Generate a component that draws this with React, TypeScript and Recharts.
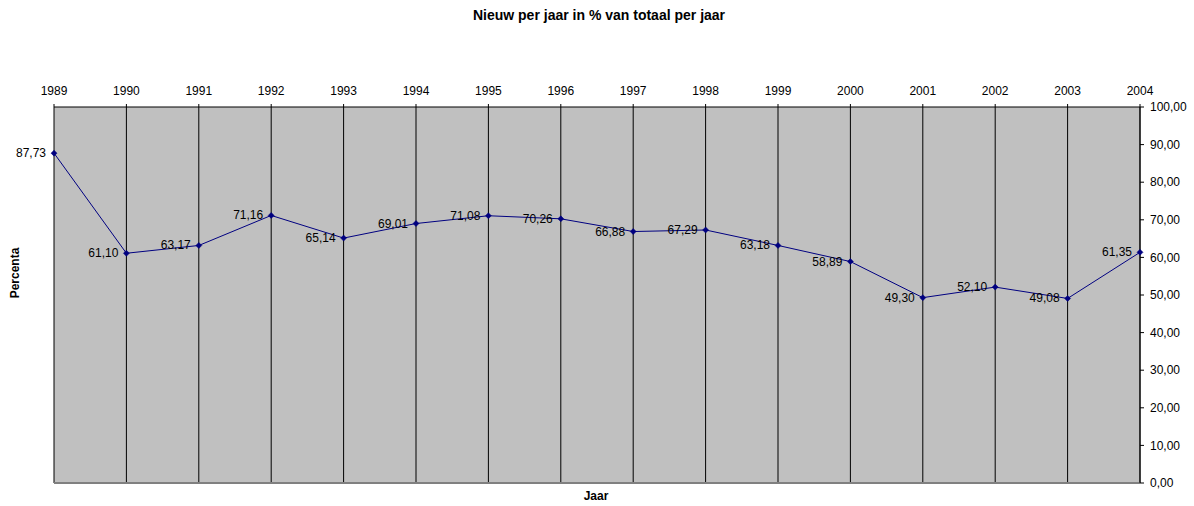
import React from "react";
import { LineChart, Line, XAxis, YAxis, CartesianGrid, LabelList, ReferenceLine } from "recharts";

const years = [1989, 1990, 1991, 1992, 1993, 1994, 1995, 1996, 1997, 1998, 1999, 2000, 2001, 2002, 2003, 2004];
const values = [87.73, 61.10, 63.17, 71.16, 65.14, 69.01, 71.08, 70.26, 66.88, 67.29, 63.18, 58.89, 49.30, 52.10, 49.08, 61.35];
const yTicks = [0, 10, 20, 30, 40, 50, 60, 70, 80, 90, 100];

const data = years.map((y, i) => ({ year: y, value: values[i] }));

const fmt = (v: number) => v.toFixed(2).replace(".", ",");
const FONT = "'Liberation Sans', Arial, sans-serif";

const Diamond = (props: any) => {
  const { cx, cy } = props;
  if (cx == null || cy == null) return null;
  const r = 3;
  return (
    <polygon
      points={`${cx},${cy - r} ${cx + r},${cy} ${cx},${cy + r} ${cx - r},${cy}`}
      fill="#000080"
      stroke="#000080"
      strokeWidth={0.5}
    />
  );
};

const ValueLabel = (props: any) => {
  const { x, y, value } = props;
  return (
    <text x={x - 8} y={y} textAnchor="end" dominantBaseline="central" fontSize={12} fontFamily={FONT} fill="#000">
      {fmt(value)}
    </text>
  );
};

export default function App() {
  return (
    <div style={{ position: "absolute", left: 0, top: 0, width: 1194, height: 506, background: "#fff", fontFamily: FONT }}>
      <div style={{ position: "absolute", left: 0, width: 1194, top: 7, textAlign: "center", fontWeight: "bold", fontSize: 14, color: "#000", paddingLeft: 2 }}>
        Nieuw per jaar in % van totaal per jaar
      </div>
      <div style={{ position: "absolute", left: 15, top: 273, transform: "translate(-50%, -50%) rotate(-90deg)", fontWeight: "bold", fontSize: 12, whiteSpace: "nowrap" }}>
        Percenta
      </div>
      <div style={{ position: "absolute", left: 596, top: 496, transform: "translate(-50%, -50%)", fontWeight: "bold", fontSize: 12 }}>
        Jaar
      </div>
      <LineChart width={1194} height={506} data={data} margin={{ top: 77, right: 0, bottom: 23, left: 54 }}>
        <CartesianGrid horizontal={false} vertical={true} stroke="#000" strokeOpacity={1} fill="#C0C0C0" fillOpacity={1} />
        <XAxis
          dataKey="year"
          type="number"
          domain={[1989, 2004]}
          ticks={years}
          orientation="top"
          xAxisId={0}
          height={30}
          stroke="#000"
          tickLine={{ stroke: "#000" }}
          tickSize={3}
          tickMargin={9}
          interval={0}
          tick={{ fontSize: 12, fontFamily: FONT, fill: "#000" }}
        />
        <YAxis
          orientation="right"
          type="number"
          domain={[0, 100]}
          ticks={yTicks}
          width={54}
          stroke="#000"
          tickSize={4}
          tickMargin={6}
          tickFormatter={fmt}
          tick={{ fontSize: 12, fontFamily: FONT, fill: "#000", textAnchor: "start" }}
        />
        <ReferenceLine y={0} stroke="#808080" strokeWidth={2} />
        <Line
          type="linear"
          dataKey="value"
          stroke="#000080"
          strokeWidth={1}
          dot={<Diamond />}
          activeDot={false}
          isAnimationActive={false}
        >
          <LabelList dataKey="value" content={<ValueLabel />} />
        </Line>
      </LineChart>
    </div>
  );
}
